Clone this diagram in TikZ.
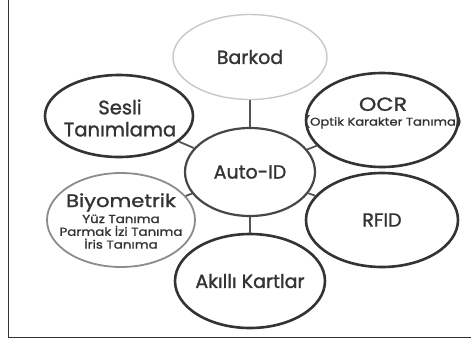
\documentclass[tikz,border=0pt]{standalone}
\usepackage{fontspec}
\setmainfont{Poppins}[FakeBold=1.2,AutoFakeBold=1.2]
\newfontfamily\widefam{Poppins}[FakeStretch=1.17,FakeBold=1.2]
\usetikzlibrary{shapes.geometric}
\definecolor{ink}{HTML}{333333}
\definecolor{lightring}{HTML}{C8C8C8}
\definecolor{midring}{HTML}{8C8C8C}
\definecolor{linkc}{HTML}{555555}
\newcommand{\bigf}{\fontsize{19}{22}\selectfont}
\newcommand{\smallf}{\widefam\fontsize{11.5}{12.8}\selectfont}
\begin{document}
\begin{tikzpicture}[x=1pt,y=-1pt,
  oval/.style={ellipse,draw=ink,line width=2.6pt,inner sep=0pt},
  txt/.style={text=ink,align=center,font=\bigf,inner sep=0pt},
  link/.style={draw=linkc,line width=1.8pt}]
\useasboundingbox (0,0) rectangle (471,341);
\fill[white] (0,0) rectangle (471,341);
\draw[line width=1pt,black!80] (8,0) -- (8,337) -- (471,337);
\node[oval,draw=lightring,line width=1.4pt,minimum width=154pt,minimum height=85pt] (bar) at (250,57) {};
\node[txt] (bart) at (bar) {Barkod};
\node[oval,minimum width=148pt,minimum height=82pt] (ses) at (119,116) {};
\node[txt,font=\fontsize{19.5}{22}\selectfont] (sest) at (120,118) {Sesli\\Tanımlama};
\node[oval,minimum width=152pt,minimum height=94pt] (ocr) at (382,120) {};
\node[txt,font=\widefam\fontsize{11.2}{12.8}\selectfont] (ocrt) at (383,113) {{\bigf OCR}\\[2pt](Optik Karakter Tanıma)};
\node[oval,draw=ink!90,line width=2.2pt,minimum width=130pt,minimum height=88pt] (auto) at (250,172) {};
\node[txt] (autot) at (auto) {Auto-ID};
\node[oval,draw=midring,line width=1.8pt,minimum width=148pt,minimum height=94pt] (bio) at (121,220) {};
\node[txt,font=\smallf] (biot) at (121,221) {{\widefam\fontsize{18}{20}\selectfont Biyometrik}\\[2pt]Yüz Tanıma\\Parmak İzi Tanıma\\İris Tanıma};
\node[oval,minimum width=152pt,minimum height=94pt] (rfid) at (382,220) {};
\node[txt] (rfidt) at (rfid) {RFID};
\node[oval,minimum width=150pt,minimum height=94pt] (akk) at (250,281) {};
\node[txt] (akkt) at (akk) {Akıllı Kartlar};
\draw[link] (bar) -- (auto);
\draw[link] (auto) -- (akk);
\draw[link] (auto) -- (ses);
\draw[link] (auto) -- (ocr);
\draw[link] (auto) -- (bio);
\draw[link] (auto) -- (rfid);
\end{tikzpicture}
\end{document}
